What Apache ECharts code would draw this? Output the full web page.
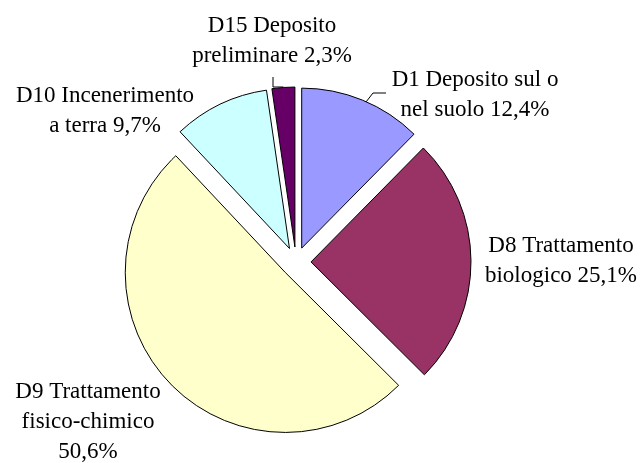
<!DOCTYPE html>
<html>
<head>
<meta charset="utf-8">
<script src="https://cdn.jsdelivr.net/npm/echarts@6/dist/echarts.min.js"></script>
<style>
html,body{margin:0;padding:0;background:#fff;}
#chart{width:643px;height:463px;}
</style>
</head>
<body>
<div id="chart"></div>
<script>
// Data
var categories = [
  'D1 Deposito sul o\nnel suolo',
  'D8 Trattamento\nbiologico',
  'D9 Trattamento\nfisico-chimico',
  'D10 Incenerimento\na terra',
  'D15 Deposito\npreliminare'
];
var values = [12.4, 25.1, 50.6, 9.7, 2.3];
var colors = ['#9999FF', '#993366', '#FFFFCC', '#CCFFFF', '#660066'];
var valueSeparators = [' ', ' ', '\n', ' ', ' '];

// Label placement (layout only): desired centre of each label block
var labelCenters = [[475, 95], [561, 261], [88, 422], [105, 111], [272, 41]];
var showLines = [true, false, false, false, true];
var EXPLODE = 15;

// explode offset direction of each slice (derived from the values)
var total = values.reduce(function (a, b) { return a + b; }, 0);
var offsets = [];
(function () {
  var cum = 0;
  values.forEach(function (v) {
    var a = (cum + v / 2) / total * Math.PI * 2;
    offsets.push([EXPLODE * Math.sin(a), -EXPLODE * Math.cos(a)]);
    cum += v;
  });
})();

var chart = echarts.init(document.getElementById('chart'), null, {renderer: 'canvas'});

var data = categories.map(function (name, i) {
  return {
    name: name,
    value: values[i],
    selected: true,
    itemStyle: {color: colors[i]},
    select: {itemStyle: {color: colors[i], borderColor: '#000', borderWidth: 1}},
    labelLine: {show: showLines[i]}
  };
});

chart.setOption({
  animation: false,
  series: [{
    type: 'pie',
    center: [296, 262],
    radius: 160,
    startAngle: 90,
    clockwise: true,
    selectedMode: 'multiple',
    selectedOffset: EXPLODE,
    avoidLabelOverlap: false,
    silent: true,
    itemStyle: {borderColor: '#000', borderWidth: 1},
    label: {
      show: true,
      position: 'outside',
      fontFamily: 'Liberation Serif',
      fontSize: 23,
      lineHeight: 30,
      color: '#000',
      formatter: function (p) {
        return p.name + valueSeparators[p.dataIndex] + values[p.dataIndex].toFixed(1).replace('.', ',') + '%';
      }
    },
    labelLine: {
      show: true,
      lineStyle: {color: '#000', width: 1},
      length: 10,
      length2: 10
    },
    labelLayout: function (p) {
      var i = p.dataIndex;
      var c = labelCenters[i];
      var r = p.labelRect;
      var o = offsets[i];
      var anchorX = p.align === 'left' ? r.x : (p.align === 'right' ? r.x + r.width : r.x + r.width / 2);
      var res = {
        align: 'center',
        dx: c[0] - anchorX - o[0],
        dy: c[1] - (r.y + r.height / 2) - o[1]
      };
      var s = p.labelLinePoints ? p.labelLinePoints[0] : null;
      if (s && i === 0) {
        res.labelLinePoints = [[s[0] - o[0], s[1] - o[1]], [373 - o[0], 93 - o[1]], [386 - o[0], 93 - o[1]]];
      } else if (s && i === 4) {
        res.labelLinePoints = [[s[0] - o[0] - 1, 87 - o[1]], [273 - o[0], 87 - o[1]], [273 - o[0], 77 - o[1]]];
      }
      return res;
    },
    data: data
  }]
});
</script>
</body>
</html>
